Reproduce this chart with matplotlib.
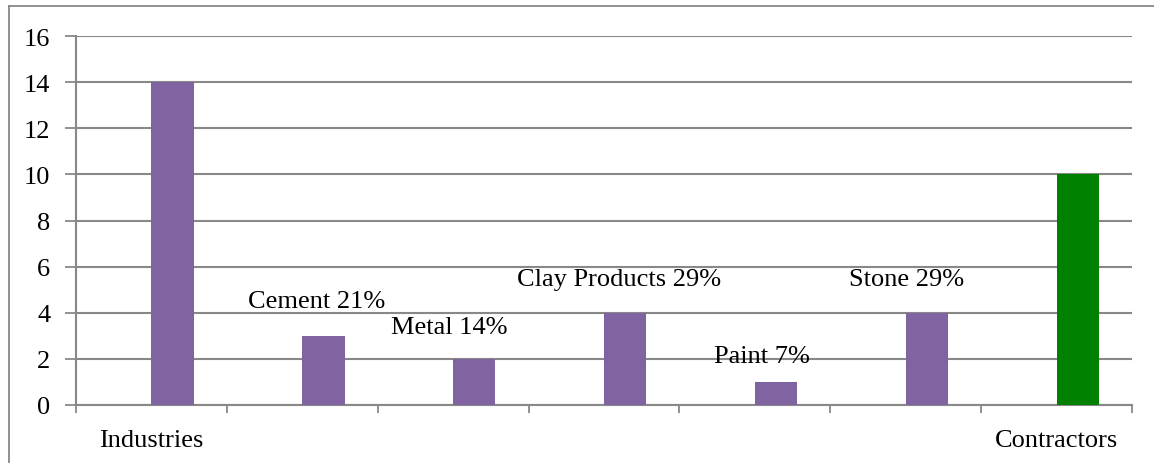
import matplotlib
matplotlib.use("Agg")
import matplotlib.pyplot as plt
from matplotlib.lines import Line2D
import numpy as np

categories = ["Industries", "", "", "", "", "", "Contractors"]
values = [14, 3, 2, 4, 1, 4, 10]
bar_labels = ["", "Cement 21%", "Metal 14%", "Clay Products 29%", "Paint 7%", "Stone 29%", ""]
colors = ["#8064A2", "#8064A2", "#8064A2", "#8064A2", "#8064A2", "#8064A2", "#008000"]
y_ticks = [0, 2, 4, 6, 8, 10, 12, 14, 16]

# label offsets (pixels) relative to bar top centre: (dx, dy)
label_offsets = [(0, 0), (-7, 35), (-25, 32), (-6, 34), (-14, 26), (-20, 34), (0, 0)]

plt.rcParams['font.family'] = ['Liberation Serif', 'DejaVu Serif']
dpi = 100
fs = 19
fig = plt.figure(figsize=(11.54, 4.64), dpi=dpi)
ax = fig.add_axes([76/1154, 58/464, (1132-76)/1154, (406-37)/464])

x = np.arange(len(categories))
bar_shift = 0.14
ax.bar(x + bar_shift, values, width=0.28, color=colors, zorder=3)

ax.set_xlim(-0.5, len(categories) - 0.5)
ax.set_ylim(0, 16)
ax.set_yticks(y_ticks)
ax.set_yticklabels([str(t) for t in y_ticks], fontsize=fs)
ax.yaxis.grid(True, color="#888888", linewidth=1.5, zorder=0)
ax.set_axisbelow(True)

ax.set_xticks(x)
ax.set_xticklabels(categories, fontsize=fs)
ax.tick_params(axis='x', length=0, pad=17)
ax.set_xticks(np.arange(len(categories) + 1) - 0.5, minor=True)
ax.tick_params(axis='x', which='minor', length=6, width=1.3, color="#888888", direction='out')
ax.tick_params(axis='y', length=8, width=1.3, color="#888888", pad=10.5)

for s in ["top", "right"]:
    ax.spines[s].set_visible(False)
for s in ["left", "bottom"]:
    ax.spines[s].set_color("#888888")
    ax.spines[s].set_linewidth(1.5)

for xi, v, lab, (dx, dy) in zip(x, values, bar_labels, label_offsets):
    if lab:
        ax.annotate(lab, xy=(xi + bar_shift, v), xytext=(dx * 72 / dpi, dy * 72 / dpi),
                    textcoords='offset points', ha='center', va='center', fontsize=fs)

# outer frame (top and left only visible)
fig.add_artist(Line2D([9/1154, 9/1154], [0, 1 - 7/464], color="#888888", linewidth=1.3,
                      transform=fig.transFigure))
fig.add_artist(Line2D([9/1154, 1], [1 - 7/464, 1 - 7/464], color="#888888", linewidth=1.3,
                      transform=fig.transFigure))

fig.savefig("out.png", dpi=dpi)
